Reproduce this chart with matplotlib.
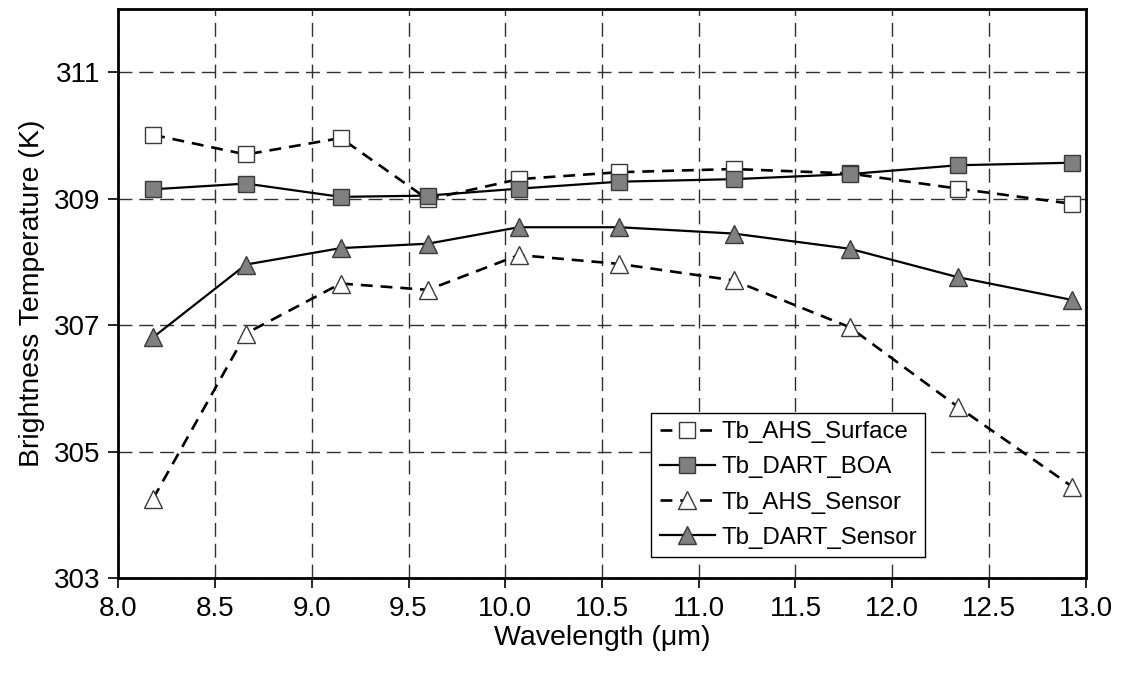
import matplotlib
matplotlib.use("Agg")
import matplotlib.pyplot as plt
from matplotlib.ticker import MultipleLocator, FormatStrFormatter

plt.rcParams['font.family'] = ['Liberation Sans', 'DejaVu Sans']

wavelength = [8.18, 8.66, 9.15, 9.60, 10.07, 10.59, 11.18, 11.78, 12.34, 12.93]
tb_ahs_surface = [310.01, 309.70, 309.96, 308.99, 309.31, 309.42, 309.47, 309.40, 309.16, 308.92]
tb_dart_boa = [309.15, 309.24, 309.03, 309.05, 309.16, 309.27, 309.31, 309.39, 309.53, 309.57]
tb_ahs_sensor = [304.26, 306.87, 307.66, 307.56, 308.11, 307.97, 307.71, 306.97, 305.71, 304.45]
tb_dart_sensor = [306.81, 307.96, 308.22, 308.29, 308.55, 308.55, 308.45, 308.21, 307.76, 307.40]
labels = ["Tb_AHS_Surface", "Tb_DART_BOA", "Tb_AHS_Sensor", "Tb_DART_Sensor"]

fig = plt.figure(figsize=(11.24, 6.75), dpi=100)
ax = fig.add_axes([118.3 / 1124, 1 - 578.3 / 675, (1085.7 - 118.3) / 1124, (578.3 - 9) / 675])

grey = '#808080'
edge = '#3a3a3a'
ms = 11.5
dash = (0, (4.5, 3))

ax.plot(wavelength, tb_ahs_surface, color='black', lw=1.9, linestyle=dash,
        marker='s', ms=ms - 0.5, mfc='white', mec=edge, mew=1.0, label=labels[0], zorder=3)
ax.plot(wavelength, tb_dart_boa, color='black', lw=1.6, linestyle='-',
        marker='s', ms=ms, mfc=grey, mec=edge, mew=1.0, label=labels[1], zorder=4)
ax.plot(wavelength, tb_ahs_sensor, color='black', lw=1.9, linestyle=dash,
        marker='^', ms=ms + 1, mfc='white', mec=edge, mew=1.0, label=labels[2], zorder=3)
ax.plot(wavelength, tb_dart_sensor, color='black', lw=1.6, linestyle='-',
        marker='^', ms=ms + 1, mfc=grey, mec=edge, mew=1.0, label=labels[3], zorder=4)

ax.set_xlim(8.0, 13.0)
ax.set_ylim(303, 312)
ax.xaxis.set_major_locator(MultipleLocator(0.5))
ax.xaxis.set_major_formatter(FormatStrFormatter('%.1f'))
ax.set_yticks([303, 305, 307, 309, 311])

ax.grid(True, color='#303030', linestyle=(0, (10, 5)), lw=1.0)
ax.set_axisbelow(True)

for s in ax.spines.values():
    s.set_linewidth(2.0)
    s.set_color('black')

ax.tick_params(axis='both', direction='out', length=7, width=1.2, color='black',
               labelsize=20, pad=6)

ax.set_xlabel('Wavelength (\u03bcm)', fontsize=20.5, labelpad=2)
ax.set_ylabel('Brightness Temperature (K)', fontsize=20.5, labelpad=6)

leg = ax.legend(loc='lower left', bbox_to_anchor=(0.551, 0.037), fontsize=17.3,
                frameon=True, fancybox=False, shadow=False, framealpha=1,
                edgecolor='black', handlelength=2.3, handletextpad=0.25,
                labelspacing=0.55, borderpad=0.35, borderaxespad=0.0)
leg.get_frame().set_linewidth(1.0)

fig.savefig('out.png', dpi=100)
